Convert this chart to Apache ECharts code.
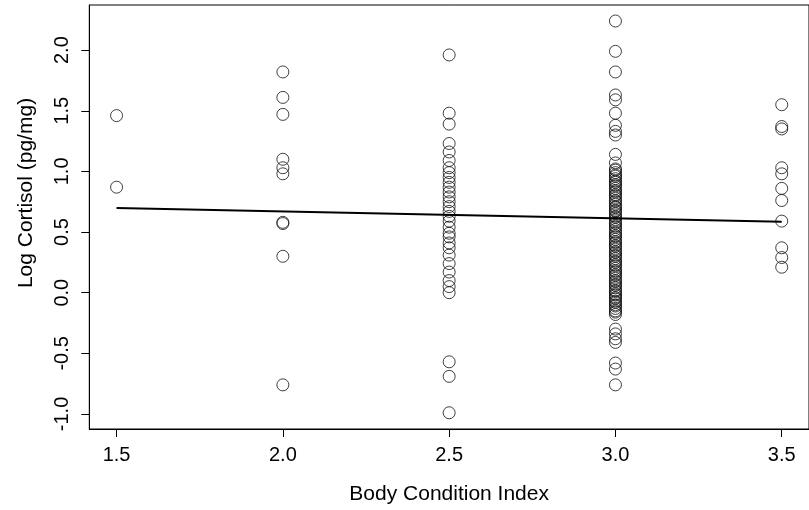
<!DOCTYPE html>
<html>
<head>
<meta charset="utf-8">
<script src="https://cdn.jsdelivr.net/npm/echarts@6/dist/echarts.min.js"></script>
<style>
html,body{margin:0;padding:0;background:#fff;}
#chart{width:809px;height:510px;}
</style>
</head>
<body>
<div id="chart"></div>
<script>
// Body Condition Index groups and Log Cortisol values
var bciValues = [1.5, 2.0, 2.5, 3.0, 3.5];
var cortisol15 = [1.46, 0.87];
var cortisol20 = [1.82, 1.61, 1.47, 1.10, 1.03, 0.98, 0.58, 0.57, 0.30, -0.76];
var cortisol25 = [1.96, 1.48, 1.39, 1.23, 1.16, 1.09, 1.03, 0.99, 0.95, 0.91, 0.87, 0.83, 0.79, 0.75,
  0.71, 0.67, 0.63, 0.59, 0.54, 0.49, 0.46, 0.41, 0.37, 0.31, 0.24, 0.17, 0.10, 0.05, 0.00,
  -0.57, -0.69, -0.99];
var cortisol30 = [2.24, 1.99, 1.82, 1.63, 1.59, 1.48, 1.38, 1.33, 1.30, 1.14, 1.07,
  1.02, 1.01, 0.99, 0.97, 0.96, 0.94, 0.92, 0.91, 0.89, 0.88, 0.86, 0.84, 0.83, 0.81, 0.80,
  0.78, 0.76, 0.75, 0.73, 0.71, 0.70, 0.68, 0.67, 0.65, 0.63, 0.62, 0.60, 0.58, 0.57, 0.55,
  0.54, 0.52, 0.50, 0.49, 0.47, 0.46, 0.44, 0.42, 0.41, 0.39, 0.38, 0.36, 0.34, 0.33, 0.31,
  0.30, 0.28, 0.26, 0.25, 0.23, 0.22, 0.20, 0.18, 0.17, 0.15, 0.14, 0.12, 0.10, 0.09, 0.07,
  0.06, 0.04, 0.02, 0.01, -0.01, -0.02, -0.04, -0.05, -0.07, -0.08, -0.10, -0.11, -0.13,
  -0.15, -0.16, -0.18, -0.30, -0.34, -0.38, -0.41, -0.58, -0.63, -0.76];
var cortisol35 = [1.55, 1.37, 1.35, 1.03, 0.98, 0.86, 0.76, 0.59, 0.37, 0.29, 0.21];
// fitted regression line end points
var fitX = [1.5, 3.5];
var fitY = [0.698, 0.585];
// tick labels
var xTicks = [1.5, 2.0, 2.5, 3.0, 3.5];
var yTicks = [-1.0, -0.5, 0.0, 0.5, 1.0, 1.5, 2.0];
var xTitle = 'Body Condition Index';
var yTitle = 'Log Cortisol (pg/mg)';

var groups = [cortisol15, cortisol20, cortisol25, cortisol30, cortisol35];
var points = [];
groups.forEach(function (g, i) {
  g.forEach(function (v) { points.push([bciValues[i], v]); });
});
var fitData = fitX.map(function (x, i) { return [x, fitY[i]]; });

var font = '"Liberation Sans", Arial, sans-serif';
var chart = echarts.init(document.getElementById('chart'), null, {renderer: 'canvas'});
chart.setOption({
  animation: false,
  backgroundColor: '#fff',
  grid: {
    left: 89.3, right: -5.5, top: 5, bottom: 81,
    show: true, borderColor: '#000', borderWidth: 1, backgroundColor: 'transparent'
  },
  graphic: [
    {
      type: 'text', x: 26, y: 193, rotation: Math.PI / 2,
      style: {text: yTitle, fontFamily: font, fontSize: 21, fill: '#000',
        align: 'center', verticalAlign: 'middle'}
    }
  ],
  xAxis: {
    type: 'value', min: 1.418, max: 3.582,
    name: xTitle, nameLocation: 'middle', nameGap: 55,
    nameTextStyle: {fontFamily: font, fontSize: 21, color: '#000'},
    axisLine: {show: true, onZero: false, lineStyle: {color: '#000', width: 1}},
    splitLine: {show: false},
    axisTick: {show: true, inside: false, length: 8, lineStyle: {color: '#000'}, customValues: xTicks},
    axisLabel: {
      fontFamily: font, fontSize: 20, color: '#000', margin: 16,
      customValues: xTicks,
      formatter: function (v) { return v.toFixed(1); }
    }
  },
  yAxis: {
    type: 'value', min: -1.124, max: 2.372,
    axisLine: {show: true, onZero: false, lineStyle: {color: '#000', width: 1}},
    splitLine: {show: false},
    axisTick: {show: true, inside: false, length: 8, lineStyle: {color: '#000'}, customValues: yTicks},
    axisLabel: {
      fontFamily: font, fontSize: 20, color: '#000', margin: 17, rotate: 90,
      customValues: yTicks,
      formatter: function (v) { return v.toFixed(1); }
    }
  },
  series: [
    {
      type: 'scatter',
      data: points,
      symbol: 'circle',
      symbolSize: 12,
      itemStyle: {color: 'rgba(0,0,0,0)', borderColor: '#111', borderWidth: 1},
      emphasis: {disabled: true},
      z: 2
    },
    {
      type: 'line',
      data: fitData,
      showSymbol: false,
      lineStyle: {color: '#000', width: 2},
      emphasis: {disabled: true},
      z: 3
    }
  ]
});
</script>
</body>
</html>
